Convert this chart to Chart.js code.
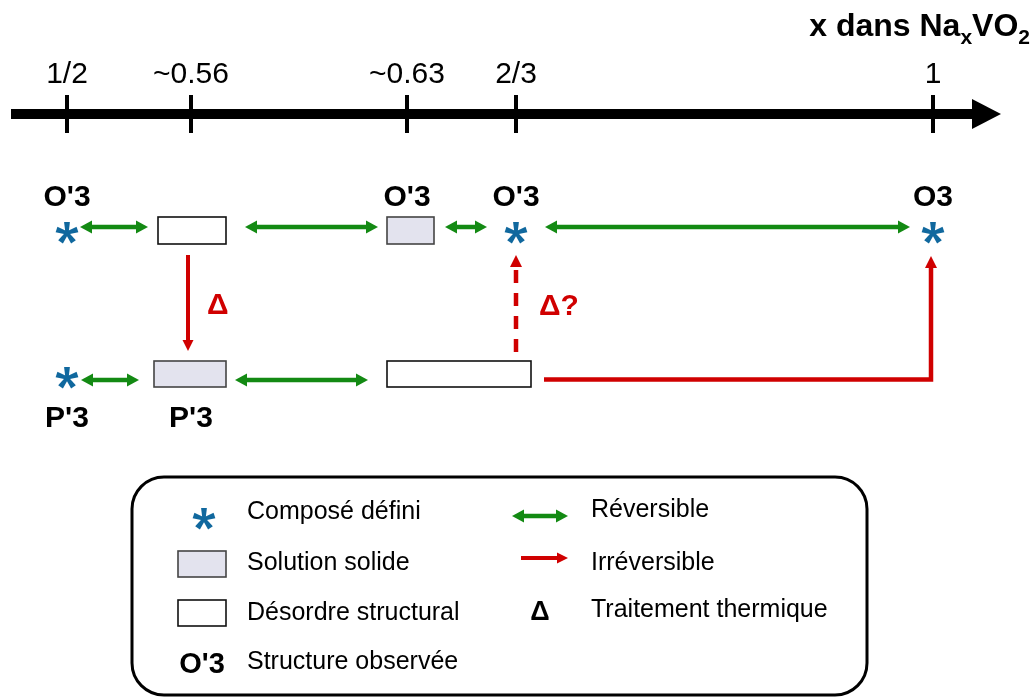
<!DOCTYPE html>
<html>
<head>
<meta charset="utf-8">
<script src="https://cdn.jsdelivr.net/npm/chart.js@4/dist/chart.umd.min.js"></script>
<style>html,body{margin:0;padding:0;background:#fff}canvas{display:block}</style>
</head>
<body>
<canvas id="c" width="1032" height="697"></canvas>
<script>
// ---------------- data ----------------
const tickValues = [0.5, 0.56, 0.63, 2/3, 1];
const tickLabels = ['1/2', '~0.56', '~0.63', '2/3', '1'];
const axisTitleParts = ['x dans Na', 'x', 'VO', '2'];

// top row (O'3 / O3 path)
const topStarsX = [0.5, 2/3, 1];
const topLabelsX = [0.5, 0.63, 2/3, 1];
const topLabels = ["O'3", "O'3", "O'3", 'O3'];
const topDisorderX = [0.56];
const topSolidSolX = [0.63];
const topReversible = [[0.5, 0.56], [0.56, 0.63], [0.63, 2/3], [2/3, 1]];

// bottom row (P'3 path)
const bottomStarsX = [0.5];
const bottomLabelsX = [0.5, 0.56];
const bottomLabels = ["P'3", "P'3"];
const bottomSolidSolX = [0.56];
const bottomDisorderRange = [0.63, 2/3];
const bottomReversible = [[0.5, 0.56], [0.56, 0.63]];

// irreversible transformations
const heatDown = {x: 0.56, label: 'Δ'};          // top -> bottom, heating
const heatUpMaybe = {x: 2/3, label: 'Δ?'};       // bottom -> top, dashed
const irreversibleL = [2/3, 1];                   // bottom disorder -> O3

const legendLeft = ['Composé défini', 'Solution solide', 'Désordre structural', 'Structure observée'];
const legendRight = ['Réversible', 'Irréversible', 'Traitement thermique'];

// ---------------- layout / style ----------------
const FONT = '"Liberation Sans", Arial, Helvetica, sans-serif';
const C = {green: '#138a13', red: '#d00000', blue: '#10689e', black: '#000', fill: '#e3e3ee', edge: '#333'};
const ANCHOR_PX = [67, 191, 407, 516, 933];   // schematic (non-linear) positions of the ticks
const L = {
  axis: {y: 114, x0: 11, x1: 972, tip: 1001, w: 10, headHalf: 15, t0: 95, t1: 133, tw: 4, lab: 83},
  title: {right: 1030, base: 36},
  r1: {box: [217, 244], arrow: 227, star: 232, label: 206},
  r2: {box: [361, 387], arrow: 380, star: 377, label: 427},
  topRevPads: [[13, -43], [54, -29], [38, -29], [29, -23]],
  botRevPads: [[14, -52], [44, -39]],
  topDisPad: [-33, 35], topSolPad: [-20, 27], botSolPad: [-37, 35], botDisPad: [-20, 15],
  heatDown: {dx: -3, y0: 255, y1: 351, ldx: 16, lbase: 314},
  heatUp: {dx: 0, y0: 352, y1: 255, ldx: 23, lbase: 315},
  lPath: {dx0: 28, dx1: -2, y: 379.5, tip: 256},
  legend: {x0: 132, y0: 477, x1: 867, y1: 695, r: 32},
};

// ---------------- custom non-linear (schematic) scale ----------------
class SchematicScale extends Chart.LinearScale {
  getPixelForValue(v) {
    if (v === null || v === undefined || isNaN(v)) return NaN;
    const w = this.chart.width;
    const fr = ANCHOR_PX.map(p => p / w);
    const vs = tickValues;
    let i = 0;
    if (v <= vs[0]) i = 0;
    else if (v >= vs[vs.length - 1]) i = vs.length - 2;
    else { while (v > vs[i + 1]) i++; }
    const t = (v - vs[i]) / (vs[i + 1] - vs[i]);
    return this.getPixelForDecimal(fr[i] + t * (fr[i + 1] - fr[i]));
  }
}
SchematicScale.id = 'schematic';
SchematicScale.defaults = {};
Chart.register(SchematicScale);

// ---------------- asterisk glyph (5 tapered arms) ----------------
function makeStar(color, r) {
  const c = document.createElement('canvas');
  c.width = 32; c.height = 32;
  const g = c.getContext('2d');
  g.fillStyle = color;
  g.translate(16, 17);
  for (let k = 0; k < 5; k++) {
    const a = -Math.PI / 2 + k * 2 * Math.PI / 5;
    g.save(); g.rotate(a);
    g.beginPath();
    g.moveTo(0, -1.6); g.lineTo(r, -2.9); g.lineTo(r, 2.9); g.lineTo(0, 1.6);
    g.closePath(); g.fill();
    g.restore();
  }
  g.beginPath(); g.arc(0, 0, 2.8, 0, Math.PI * 2); g.fill();
  return c;
}
const STAR = makeStar(C.blue, 11);

// ---------------- drawing helpers ----------------
function head(ctx, x, y, ang, len, half, color) {
  ctx.save(); ctx.translate(x, y); ctx.rotate(ang);
  ctx.beginPath(); ctx.moveTo(0, 0); ctx.lineTo(-len, -half); ctx.lineTo(-len, half); ctx.closePath();
  ctx.fillStyle = color; ctx.fill(); ctx.restore();
}
function seg(ctx, x1, y1, x2, y2, color, w, dash) {
  ctx.save(); ctx.beginPath(); ctx.setLineDash(dash || []);
  ctx.moveTo(x1, y1); ctx.lineTo(x2, y2);
  ctx.strokeStyle = color; ctx.lineWidth = w; ctx.lineCap = 'butt'; ctx.stroke(); ctx.restore();
}
function dblArrow(ctx, x1, x2, y, color) {
  const len = 12, half = 6.5;
  seg(ctx, x1 + len - 1, y, x2 - len + 1, y, color, 4.5);
  head(ctx, x2, y, 0, len, half, color);
  head(ctx, x1, y, Math.PI, len, half, color);
}
function box(ctx, x0, x1, y0, y1, fill) {
  ctx.save();
  ctx.fillStyle = fill ? C.fill : '#fff';
  ctx.fillRect(x0, y0, x1 - x0, y1 - y0);
  ctx.strokeStyle = fill ? '#444' : '#111';
  ctx.lineWidth = 1.6;
  ctx.strokeRect(x0, y0, x1 - x0, y1 - y0);
  ctx.restore();
}
function text(ctx, s, x, y, size, bold, color, align) {
  ctx.save();
  ctx.font = `${bold ? 'bold ' : ''}${size}px ${FONT}`;
  ctx.fillStyle = color || '#000';
  ctx.textAlign = align || 'center';
  ctx.textBaseline = 'alphabetic';
  ctx.fillText(s, x, y);
  ctx.restore();
}

const diagram = {
  id: 'diagram',
  beforeDatasetsDraw(chart) {
    const ctx = chart.ctx;
    const X = v => chart.scales.x.getPixelForValue(v);
    const A = L.axis;

    // main axis with arrow
    seg(ctx, A.x0, A.y, A.x1 + 1, A.y, C.black, A.w);
    ctx.save(); ctx.beginPath();
    ctx.moveTo(A.x1, A.y - A.headHalf); ctx.lineTo(A.tip, A.y); ctx.lineTo(A.x1, A.y + A.headHalf);
    ctx.closePath(); ctx.fillStyle = C.black; ctx.fill(); ctx.restore();
    tickValues.forEach((v, i) => {
      seg(ctx, X(v), A.t0, X(v), A.t1, C.black, A.tw);
      text(ctx, tickLabels[i], X(v), A.lab, 30, false, C.black);
    });

    // axis title with subscripts
    ctx.save();
    const parts = axisTitleParts.map((t, i) => ({t, size: i % 2 ? 21 : 32, dy: i % 2 ? 8 : 0}));
    let tot = 0;
    parts.forEach(p => { ctx.font = `bold ${p.size}px ${FONT}`; p.w = ctx.measureText(p.t).width; tot += p.w; });
    let x = L.title.right - tot;
    parts.forEach(p => { text(ctx, p.t, x, L.title.base + p.dy, p.size, true, C.black, 'left'); x += p.w; });
    ctx.restore();

    // structure labels
    topLabelsX.forEach((v, i) => text(ctx, topLabels[i], X(v), L.r1.label, 30, true, C.black));
    bottomLabelsX.forEach((v, i) => text(ctx, bottomLabels[i], X(v), L.r2.label, 30, true, C.black));

    // boxes
    topDisorderX.forEach(v => box(ctx, X(v) + L.topDisPad[0], X(v) + L.topDisPad[1], L.r1.box[0], L.r1.box[1], false));
    topSolidSolX.forEach(v => box(ctx, X(v) + L.topSolPad[0], X(v) + L.topSolPad[1], L.r1.box[0], L.r1.box[1], true));
    bottomSolidSolX.forEach(v => box(ctx, X(v) + L.botSolPad[0], X(v) + L.botSolPad[1], L.r2.box[0], L.r2.box[1], true));
    box(ctx, X(bottomDisorderRange[0]) + L.botDisPad[0], X(bottomDisorderRange[1]) + L.botDisPad[1], L.r2.box[0], L.r2.box[1], false);

    // reversible arrows
    topReversible.forEach((p, i) => dblArrow(ctx, X(p[0]) + L.topRevPads[i][0], X(p[1]) + L.topRevPads[i][1], L.r1.arrow, C.green));
    bottomReversible.forEach((p, i) => dblArrow(ctx, X(p[0]) + L.botRevPads[i][0], X(p[1]) + L.botRevPads[i][1], L.r2.arrow, C.green));

    // irreversible: heating down
    const hd = L.heatDown, xd = X(heatDown.x) + hd.dx;
    seg(ctx, xd, hd.y0, xd, hd.y1 - 10, C.red, 4);
    head(ctx, xd, hd.y1, Math.PI / 2, 11, 5.5, C.red);
    text(ctx, heatDown.label, X(heatDown.x) + hd.ldx, hd.lbase, 30, true, C.red, 'left');

    // dashed up (Δ?)
    const hu = L.heatUp, xu = X(heatUpMaybe.x) + hu.dx;
    seg(ctx, xu, hu.y0, xu, hu.y1 + 11, C.red, 4.5, [13, 10]);
    head(ctx, xu, hu.y1, -Math.PI / 2, 12, 6, C.red);
    text(ctx, heatUpMaybe.label, X(heatUpMaybe.x) + hu.ldx, hu.lbase, 30, true, C.red, 'left');

    // L-shaped irreversible to O3
    const lp = L.lPath, lx0 = X(irreversibleL[0]) + lp.dx0, lx1 = X(irreversibleL[1]) + lp.dx1;
    ctx.save(); ctx.beginPath();
    ctx.moveTo(lx0, lp.y); ctx.lineTo(lx1, lp.y); ctx.lineTo(lx1, lp.tip + 11);
    ctx.strokeStyle = C.red; ctx.lineWidth = 4.5; ctx.lineJoin = 'miter'; ctx.stroke(); ctx.restore();
    head(ctx, lx1, lp.tip, -Math.PI / 2, 12, 6, C.red);

    // legend
    const g = L.legend;
    ctx.save(); ctx.beginPath();
    ctx.moveTo(g.x0 + g.r, g.y0); ctx.lineTo(g.x1 - g.r, g.y0); ctx.arcTo(g.x1, g.y0, g.x1, g.y0 + g.r, g.r);
    ctx.lineTo(g.x1, g.y1 - g.r); ctx.arcTo(g.x1, g.y1, g.x1 - g.r, g.y1, g.r);
    ctx.lineTo(g.x0 + g.r, g.y1); ctx.arcTo(g.x0, g.y1, g.x0, g.y1 - g.r, g.r);
    ctx.lineTo(g.x0, g.y0 + g.r); ctx.arcTo(g.x0, g.y0, g.x0 + g.r, g.y0, g.r);
    ctx.closePath(); ctx.strokeStyle = '#000'; ctx.lineWidth = 3; ctx.stroke(); ctx.restore();

    ctx.drawImage(STAR, 204 - 16, 518 - 16);
    box(ctx, 178, 226, 551, 577, true);
    box(ctx, 178, 226, 600, 626, false);
    text(ctx, "O'3", 202, 673, 29, true, C.black);
    const leftBase = [519, 570, 620, 669];
    legendLeft.forEach((s, i) => text(ctx, s, 247, leftBase[i], 25, false, C.black, 'left'));
    dblArrow(ctx, 512, 568, 516, C.green);
    seg(ctx, 521, 558, 558, 558, C.red, 4);
    head(ctx, 568, 558, 0, 11, 5.5, C.red);
    text(ctx, 'Δ', 540, 620, 27, true, C.black);
    const rightBase = [517, 570, 617];
    legendRight.forEach((s, i) => text(ctx, s, 591, rightBase[i], 25, false, C.black, 'left'));
  }
};

const starPoints = [
  ...topStarsX.map(x => ({x, y: L.r1.star})),
  ...bottomStarsX.map(x => ({x, y: L.r2.star}))
];

new Chart(document.getElementById('c'), {
  type: 'scatter',
  data: {datasets: [{data: starPoints, pointStyle: STAR, pointRadius: 11, pointHoverRadius: 11}]},
  options: {
    responsive: false, animation: false, events: [],
    layout: {padding: 0, autoPadding: false},
    plugins: {legend: {display: false}, tooltip: {enabled: false}},
    scales: {
      x: {type: 'schematic', min: 0.45, max: 1.1, display: false},
      y: {type: 'linear', min: 0, max: 697, reverse: true, display: false}
    }
  },
  plugins: [diagram]
});
</script>
</body>
</html>
